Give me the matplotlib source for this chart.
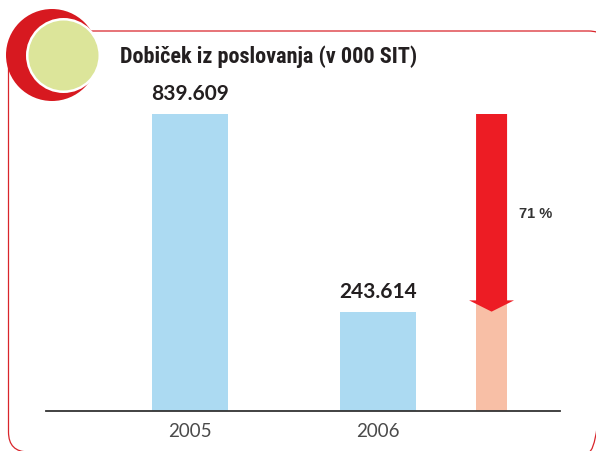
import matplotlib
matplotlib.use("Agg")
import matplotlib.pyplot as plt
from matplotlib.patches import Circle, FancyBboxPatch

# podatki
years = ["2005", "2006"]
values = [839.609, 243.614]
value_labels = ["839.609", "243.614"]
drop_label = "71 %"
title = "Dobiček iz poslovanja (v 000 SIT)"

W, H = 596, 452
fig = plt.figure(figsize=(W / 100, H / 100), dpi=100)

# ozadje v pikslih (okvir + krog)
bg = fig.add_axes([0, 0, 1, 1])
bg.set_xlim(0, W)
bg.set_ylim(H, 0)
bg.axis("off")

frame = FancyBboxPatch((8.5, 32), 600, 421, boxstyle="round,pad=0,rounding_size=20",
                       fill=False, ec="#d9252b", lw=0.9)
bg.add_patch(frame)
bg.add_patch(Circle((52, 56), 46, color="#d71920", lw=0))
bg.add_patch(Circle((63.5, 56.5), 37.5, color="white", lw=0))
bg.add_patch(Circle((63.5, 56.5), 35, color="#dce59a", lw=0))

narrow = ["Liberation Sans Narrow", "Roboto Condensed", "DejaVu Sans Condensed", "DejaVu Sans"]
bg.text(120, 63, title, fontsize=16, fontweight="bold", family=narrow, fontstretch="condensed",
        color="#231f20", va="baseline", ha="left")

# graf
y_floor = -56  # os ne zacne pri 0 (kot v originalu)
ax = fig.add_axes([46 / W, (H - 412) / H, 514 / W, 297 / H])
ax.patch.set_alpha(0)
ax.set_xlim(-0.766, 1.968)
ax.set_ylim(y_floor, values[0])

ax.bar([0, 1], [v - y_floor for v in values], bottom=y_floor, width=0.404,
       color="#acdaf2", zorder=2)

# padec 2005 -> 2006
x_arrow = 1.604
head_len = 34
ax.bar([x_arrow], [values[1] + head_len - y_floor], bottom=y_floor, width=0.165,
       color="#f8bfa6", zorder=2)
ax.arrow(x_arrow, values[0], 0, values[1] - values[0], width=0.165, head_width=0.239,
         head_length=head_len, length_includes_head=True, color="#ed1c24", lw=0, zorder=3)
ax.annotate(drop_label, (x_arrow, (values[0] + values[1]) / 2), xytext=(19.5, 0),
            textcoords="offset points", fontsize=10.5, fontweight="bold",
            family="Liberation Sans", color="#333333", va="center", ha="left")

for i, (v, lab) in enumerate(zip(values, value_labels)):
    ax.annotate(lab, (i, v), xytext=(0, 10.5), textcoords="offset points",
                ha="center", va="baseline", fontsize=15, fontweight="bold",
                family="Lato", color="#231f20", annotation_clip=False)

for s in ["left", "right", "top"]:
    ax.spines[s].set_visible(False)
ax.spines["bottom"].set_color("#333333")
ax.spines["bottom"].set_linewidth(1.3)
ax.spines["bottom"].set_position(("data", y_floor))
ax.set_yticks([])
ax.set_xticks([0, 1])
ax.set_xticklabels(years, fontsize=13.5, family="Lato", color="#4a4a4a")
ax.tick_params(axis="x", length=0, pad=8)

fig.savefig("out.png", dpi=100)
